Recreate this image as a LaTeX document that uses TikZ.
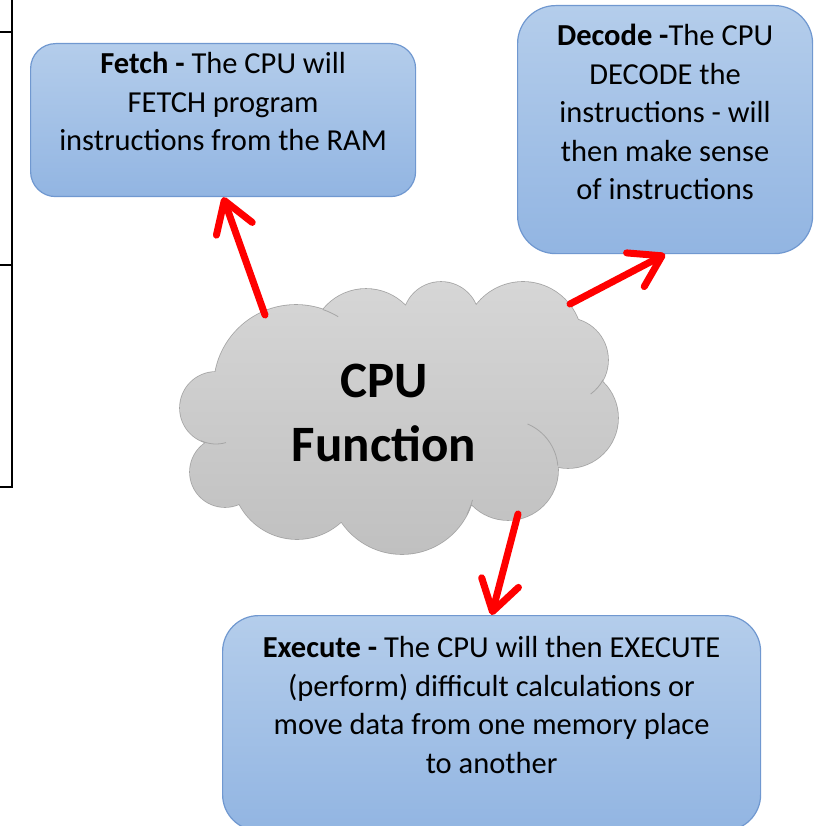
\documentclass[tikz,border=0pt]{standalone}
\usepackage{fontspec}
\setmainfont{Carlito}
\usepackage{tikz}
\usetikzlibrary{arrows.meta}
\definecolor{boxtop}{RGB}{180,205,235}
\definecolor{boxbot}{RGB}{146,181,226}
\definecolor{boxline}{RGB}{112,152,208}
\definecolor{cloudtop}{RGB}{214,214,214}
\definecolor{cloudbot}{RGB}{192,192,192}
\definecolor{cloudline}{RGB}{165,165,165}
\tikzstyle{info} = [draw=boxline, line width=1.2pt, top color=boxtop, bottom color=boxbot, inner sep=0pt, anchor=north west]
\tikzstyle{arrow} = [draw=red, line width=7pt, line cap=round, -{Straight Barb[length=30pt,width=38pt,round]}]
\tikzstyle{puffline} = [draw=cloudline, line width=0.8pt]
% width, height, first baseline, text
\newcommand{\boxtext}[4]{\parbox[c][#2][t]{#1}{\centering\fontsize{30.5}{38.5}\selectfont\rule{0pt}{#3}#4}}
% puffs of the cloud: x/y/radius
\newcommand{\puffs}{296/387/82, 366/344/55, 441/320/38, 523/341/59, 566/360/42, 568/418/50,
  508/470/50, 402/481/73, 297/474/65, 225/472/35, 216/408/36}

\begin{document}
\begin{tikzpicture}[x=1pt, y=-1pt]
    \useasboundingbox (0,0) rectangle (820,826);

    % edge of the table on the left
    \draw[line width=2pt] (12,0) -- (12,487);
    \draw[line width=2pt] (0,32) -- (12,32) (0,265) -- (12,265) (0,487) -- (13,487);

    \node[info, rounded corners=25pt] (fetch) at (30,43)
        {\boxtext{385pt}{153pt}{30pt}{\textbf{Fetch -} The CPU will\\FETCH program\\instructions from the RAM}};
    \node[info, rounded corners=38pt] (decode) at (517,5)
        {\boxtext{295pt}{248pt}{40pt}{\textbf{Decode -}The CPU\\DECODE the\\instructions - will\\then make sense\\of instructions}};
    \node[info, rounded corners=36pt] (execute) at (222,615)
        {\boxtext{538pt}{215pt}{42pt}{\textbf{Execute -} The CPU will then EXECUTE\\(perform) difficult calculations or\\move data from one memory place\\to another}};

    % cloud: outline first, then the fill over it hides the inner half
    \draw[draw=cloudline, line width=1.6pt] \foreach \cx/\cy/\r in \puffs {(\cx,\cy) circle[radius=\r]};
    \shade[top color=cloudtop, bottom color=cloudbot] (400,415) ellipse[x radius=175, y radius=95]
        \foreach \cx/\cy/\r in \puffs {(\cx,\cy) circle[radius=\r]};
    \draw[puffline] (508,470) ++(-67:50) arc[start angle=-67, end angle=-5, radius=50];
    \draw[puffline] (296,387) ++(-71:82) arc[start angle=-71, end angle=-59, radius=82];
    \draw[puffline] (566,360) ++(28:42) arc[start angle=28, end angle=54, radius=42];
    \draw[puffline] (402,481) ++(15:73) arc[start angle=15, end angle=27, radius=73];
    \draw[puffline] (216,408) ++(74:36) arc[start angle=74, end angle=115, radius=36];
    \node[align=center, inner sep=0pt, font=\fontsize{51}{64}\selectfont\bfseries] (cpu) at (384,413) {CPU\\Function};

    \coordinate (cpufetch) at (265,315);
    \coordinate (cpudecode) at (570,304);
    \coordinate (cpuexecute) at (518,514);

    \draw[arrow] (cpufetch) -- (fetch.south);
    \draw[arrow] (cpudecode) -- (decode.south);
    \draw[arrow] (cpuexecute) -- (execute.north);
\end{tikzpicture}
\end{document}
